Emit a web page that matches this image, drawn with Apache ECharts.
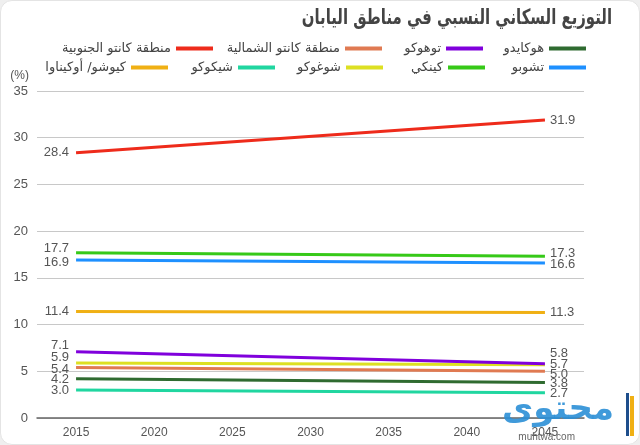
<!DOCTYPE html>
<html><head><meta charset="utf-8">
<script src="https://cdn.jsdelivr.net/npm/echarts@6/dist/echarts.min.js"></script>
<style>
html,body{margin:0;padding:0;background:#efefef;}
#c{width:638px;height:443px;background:#fff;border:1px solid #e4e4e4;border-radius:12px;overflow:hidden;}
</style></head>
<body><div id="c"></div>
<script>
const years = ['2015','2020','2025','2030','2035','2040','2045'];
const regions = ['هوكايدو','توهوكو','منطقة كانتو الشمالية','منطقة كانتو الجنوبية','تشوبو','كينكي','شوغوكو','شيكوكو','كيوشو/ أوكيناوا'];
const start2015 = [4.2, 7.1, 5.4, 28.4, 16.9, 17.7, 5.9, 3.0, 11.4];
const end2045   = [3.8, 5.8, 5.0, 31.9, 16.6, 17.3, 5.7, 2.7, 11.3];
const yTicks = [0,5,10,15,20,25,30,35];

const colors = ['#2f6b30','#8000dc','#e07a52','#ee2b1b','#1e90ff','#36c918','#dde022','#20d6a0','#f0b014'];
// label vertical nudges (px) to avoid overlap, [left, right]
const nudge = [[1,1],[-6,-10],[2,3],[0,0],[2,2],[-4,-3],[-5,0],[0,1],[0,0]];
// legend placement: [right, top]
const legendPos = [[53,41],[156,41],[257,41],[426,41],[53,60],[154,60],[256,60],[364,60],[471,60]];

const chart = echarts.init(document.getElementById('c'), null, {renderer:'canvas'});
const labelFont = {fontFamily:'Liberation Sans, Arial, sans-serif', fontSize:13, color:'#555'};
const lastIdx = years.length - 1;

const series = regions.map((name,i)=>{
  const data = years.map(()=>null);
  data[0] = {value:start2015[i], label:{show:true, position:'left', distance:7, ...labelFont}};
  data[lastIdx] = {value:end2045[i], label:{show:true, position:'right', distance:5, ...labelFont}};
  return {name, type:'line', data, connectNulls:true, symbol:'circle', symbolSize:0, showSymbol:true,
    lineStyle:{width:3, color:colors[i]}, itemStyle:{color:colors[i]}, z: 10 - i * 0.1,
    label:{show:false, formatter:(p)=>Number(p.value).toFixed(1)},
    labelLayout:(p)=>({hideOverlap:false, dy: p.dataIndex === 0 ? nudge[i][0] : nudge[i][1]}),
    emphasis:{disabled:true}, animation:false};
});

const legends = regions.map((name,i)=>({
  data:[name], right:legendPos[i][0], top:legendPos[i][1], align:'right', orient:'horizontal',
  icon:'rect', itemWidth:37, itemHeight:4, padding:0, selectedMode:false,
  textStyle:{fontFamily:'DejaVu Sans, sans-serif', fontSize:13, color:'#444'}
}));

chart.setOption({
  animation:false,
  color:colors,
  legend:legends,
  grid:{left:36, right:55, top:90, bottom:26},
  xAxis:{type:'category', data:years, boundaryGap:true,
    axisLine:{lineStyle:{color:'#666', width:1.5}},
    axisTick:{alignWithLabel:true, inside:true, length:7, lineStyle:{color:'#666'}},
    axisLabel:{fontFamily:'Liberation Sans, Arial, sans-serif', fontSize:12, color:'#555', margin:9},
    splitLine:{show:false}},
  yAxis:{type:'value', min:yTicks[0], max:yTicks[yTicks.length-1], interval:5,
    name:'(%)', nameLocation:'end', nameGap:9,
    nameTextStyle:{fontFamily:'Liberation Sans, Arial, sans-serif', fontSize:12, color:'#555', align:'right', padding:[0,8,0,0]},
    axisLine:{show:false}, axisTick:{show:false},
    axisLabel:{fontFamily:'Liberation Sans, Arial, sans-serif', fontSize:13, color:'#555', margin:9},
    splitLine:{lineStyle:{color:'#c8c8c8', width:1.2}}},
  graphic:[
    {type:'text', right:27, top:7, z:100, scaleX:0.79, originX:612,
      style:{text:'التوزيع السكاني النسبي في مناطق اليابان', font:'bold 21px "DejaVu Sans Condensed", "DejaVu Sans", sans-serif', fill:'#444'}},
    {type:'text', right:25, top:392, z:100, style:{text:'محتوى', font:'bold 34px "DejaVu Sans", sans-serif', fill:'#2b8fd6', opacity:0.9}},
    {type:'text', right:64, top:431, z:100, style:{text:'muhtwa.com', font:'10px "Liberation Sans", sans-serif', fill:'#666'}},
    {type:'rect', right:5, top:395, z:100, shape:{width:4, height:40}, style:{fill:'#f0b014'}},
    {type:'rect', right:10, top:392, z:100, shape:{width:3, height:43}, style:{fill:'#1e4e8c'}}
  ],
  series
});
</script></body></html>
